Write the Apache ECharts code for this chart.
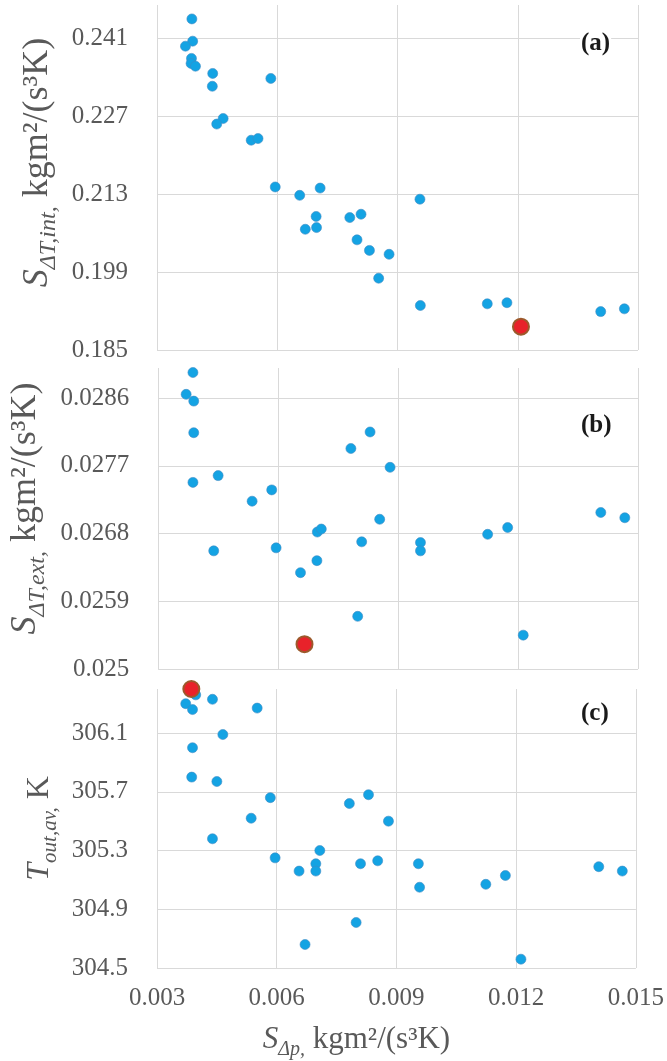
<!DOCTYPE html>
<html><head><meta charset="utf-8">
<script src="https://cdn.jsdelivr.net/npm/echarts@6/dist/echarts.min.js"></script>
<style>html,body{margin:0;padding:0;background:#fff}#c{width:667px;height:1061px}</style>
</head><body><div id="c"></div>
<script>
// x-axis ticks (shared)
const xTicks = [0.003, 0.006, 0.009, 0.012, 0.015];
// panel (a)
const aX = [0.00387,0.00389,0.00371,0.00386,0.00385,0.00396,0.00439,0.00438,0.00584,0.00465,0.00449,0.00535,0.00552,0.00595,0.00656,0.00707,0.00956,0.00697,0.00698,0.0067,0.00781,0.00809,0.00799,0.0083,0.00879,0.00853,0.00957,0.01124,0.01173,0.01407,0.01466];
const aY = [0.2445,0.2405,0.2396,0.2374,0.2365,0.2360,0.2347,0.2324,0.2338,0.2266,0.2256,0.2227,0.2230,0.2143,0.2128,0.2141,0.2121,0.2090,0.2070,0.2067,0.2088,0.2094,0.2048,0.2029,0.2022,0.1979,0.1930,0.1933,0.1935,0.1919,0.1924];
const aBestX = [0.01208], aBestY = [0.1892];
const aTicks = [0.185, 0.199, 0.213, 0.227, 0.241];
// panel (b)
const bX = [0.00387,0.0037,0.00389,0.00389,0.00387,0.0045,0.00439,0.00584,0.00535,0.00595,0.00656,0.00697,0.00698,0.00708,0.00782,0.0083,0.0088,0.00854,0.00809,0.00799,0.00956,0.00956,0.01124,0.01174,0.01213,0.01407,0.01467];
const bY = [0.02894,0.02865,0.02856,0.02814,0.02748,0.02757,0.02657,0.02738,0.02723,0.02661,0.02628,0.02644,0.02682,0.02686,0.02793,0.02815,0.02768,0.02699,0.02669,0.0257,0.02668,0.02657,0.02679,0.02688,0.02545,0.02708,0.02701];
const bBestX = [0.00666], bBestY = [0.02533];
const bTicks = [0.025, 0.0259, 0.0268, 0.0277, 0.0286];
// panel (c)
const cX = [0.00397,0.00439,0.00372,0.00389,0.00551,0.00465,0.00389,0.00387,0.0045,0.00584,0.00536,0.00439,0.00782,0.0083,0.0088,0.00596,0.00656,0.00698,0.00698,0.00708,0.0081,0.00853,0.00955,0.00958,0.01124,0.01173,0.01212,0.01407,0.01466,0.00799,0.00671];
const cY = [306.36,306.33,306.30,306.26,306.27,306.09,306.00,305.80,305.77,305.66,305.52,305.38,305.62,305.68,305.50,305.25,305.16,305.21,305.16,305.30,305.21,305.23,305.21,305.05,305.07,305.13,304.56,305.19,305.16,304.81,304.66];
const cBestX = [0.00386], cBestY = [306.40];
const cTicks = [304.5, 304.9, 305.3, 305.7, 306.1];

const FONT = "'Liberation Serif','Times New Roman',serif";
const GRAY = '#595959';
const zip = (xs, ys) => xs.map((x, i) => [x, ys[i]]);

function rich(main, sub) {
  const lh = Math.round(main * 1.3);
  return {
    s: {fontFamily: FONT, fontStyle: 'italic', fontSize: main, color: GRAY, lineHeight: lh},
    sub: {fontFamily: FONT, fontStyle: 'italic', fontSize: sub, color: GRAY, lineHeight: sub, verticalAlign: 'bottom'},
    n: {fontFamily: FONT, fontSize: main, color: GRAY, lineHeight: lh}
  };
}

const grids = [
  {left: 157, right: 29, top: 5, height: 345},
  {left: 157, right: 29, top: 368, height: 301},
  {left: 157, right: 29, top: 689, height: 284}
];

function xAxis(i) {
  return {
    type: 'value', gridIndex: i, min: xTicks[0], max: xTicks[xTicks.length - 1],
    interval: xTicks[1] - xTicks[0],
    axisLine: {show: false}, axisTick: {show: false},
    splitLine: {show: true, lineStyle: {color: '#d9d9d9', width: 1}},
    axisLabel: {show: i === 2, fontFamily: FONT, fontSize: 25, color: GRAY, margin: 18,
      formatter: v => v.toFixed(3)},
    name: i === 2 ? '{s|S}{sub|Δp,}{n| kgm²/(s³K)}' : '',
    nameLocation: 'middle', nameGap: 52,
    nameTextStyle: {rich: rich(31, 20), padding: [0, 80, 0, 0]}
  };
}

function yAxis(i, ticks, max, dec, name, main, sub, shift) {
  const step = ticks[1] - ticks[0];
  const lh = Math.round(main * 1.3);
  return {
    type: 'value', gridIndex: i, min: ticks[0], max: max, interval: step,
    axisLine: {show: false}, axisTick: {show: false},
    splitLine: {show: true, showMaxLine: false, lineStyle: {color: '#d9d9d9', width: 1}},
    axisLabel: {fontFamily: FONT, fontSize: 25, color: GRAY, margin: 29,
      showMaxLabel: false,
      formatter: v => {
        const ok = ticks.some(t => Math.abs(t - v) < step * 0.01);
        return ok ? String(parseFloat(v.toFixed(dec))) : '';
      }},
    name: name, nameLocation: 'middle', nameGap: 157 - 43 - lh / 2,
    nameTextStyle: {rich: rich(main, sub), padding: [0, 0, 0, shift]}
  };
}

const blue = {color: '#14a3e3', borderColor: '#3f8cc4', borderWidth: 0.6, opacity: 1};
const red = {color: '#e8222a', borderColor: '#9c5a2c', borderWidth: 2, opacity: 1};

function series(i, xs, ys, bx, by) {
  return [
    {type: 'scatter', xAxisIndex: i, yAxisIndex: i, data: zip(xs, ys), symbolSize: 10,
      itemStyle: blue, z: 2, clip: false},
    {type: 'scatter', xAxisIndex: i, yAxisIndex: i, data: zip(bx, by), symbolSize: 16,
      itemStyle: red, z: 3, clip: false}
  ];
}

const labelStyle = (txt, x, y) => ({
  type: 'text', left: x, top: y, z: 10,
  style: {text: txt, fontFamily: FONT, fontWeight: 'bold', fontSize: 25, fill: '#1a1a1a',
    backgroundColor: '#fff', padding: [0, 1]}
});

const chart = echarts.init(document.getElementById('c'), null, {renderer: 'canvas'});
chart.setOption({
  animation: false,
  backgroundColor: '#fff',
  grid: grids,
  xAxis: [xAxis(0), xAxis(1), xAxis(2)],
  yAxis: [
    yAxis(0, aTicks, 0.247, 3, '{s|S}{sub|ΔT,int,}{n| kgm²/(s³K)}', 36, 24, 30),
    yAxis(1, bTicks, 0.029, 4, '{s|S}{sub|ΔT,ext,}{n| kgm²/(s³K)}', 36, 24, 20),
    yAxis(2, cTicks, 306.4, 1, '{s|T}{sub|out,av,}{n| K}', 32, 21, 0)
  ],
  series: [
    ...series(0, aX, aY, aBestX, aBestY),
    ...series(1, bX, bY, bBestX, bBestY),
    ...series(2, cX, cY, cBestX, cBestY)
  ],
  graphic: [
    labelStyle('(a)', 580, 31),
    labelStyle('(b)', 580, 413),
    labelStyle('(c)', 580, 701)
  ]
});
</script>
</body></html>
